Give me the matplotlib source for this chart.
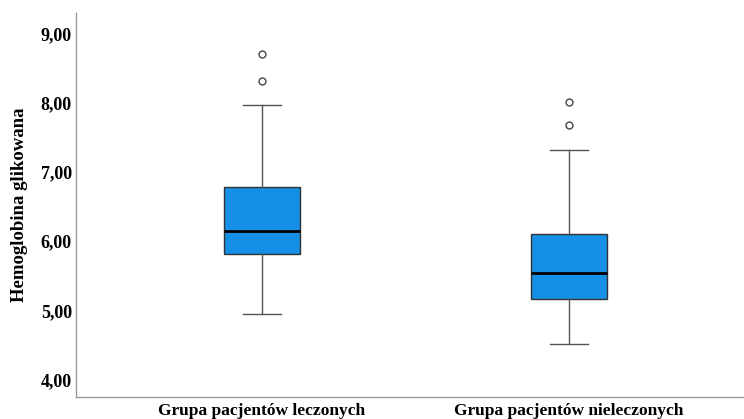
import matplotlib
matplotlib.use("Agg")
import matplotlib.pyplot as plt
from matplotlib.ticker import FuncFormatter

categories = ["Grupa pacjentów leczonych", "Grupa pacjentów nieleczonych"]
q1 = [5.81, 5.17]
median = [6.14, 5.54]
q3 = [6.78, 6.10]
whislo = [4.94, 4.52]
whishi = [7.96, 7.32]
outliers = [[8.32, 8.71], [7.68, 8.01]]
yticks = [4.0, 5.0, 6.0, 7.0, 8.0, 9.0]

stats = []
for i, c in enumerate(categories):
    stats.append(dict(label=c, q1=q1[i], med=median[i], q3=q3[i],
                      whislo=whislo[i], whishi=whishi[i], fliers=outliers[i]))

fig = plt.figure(figsize=(7.44, 4.19), dpi=100)
ax = fig.add_axes([76/744, 1-397/419, (744-76)/744, (397-13)/419])

ax.bxp(stats, positions=[1, 2], widths=0.25, patch_artist=True,
       boxprops=dict(facecolor="#1590E6", edgecolor="#333333", linewidth=1.0),
       medianprops=dict(color="#000000", linewidth=2.0),
       whiskerprops=dict(color="#555555", linewidth=1.0),
       capprops=dict(color="#555555", linewidth=1.0),
       capwidths=0.124,
       flierprops=dict(marker="o", markersize=5, markerfacecolor="white",
                       markeredgecolor="#444444", markeredgewidth=1.0))

ax.set_xlim(0.394, 2.57)
ax.set_ylim(3.747, 9.296)
ax.set_yticks(yticks)
ax.yaxis.set_major_formatter(FuncFormatter(lambda v, p: f"{v:.2f}".replace(".", ",")))
ax.tick_params(length=0)
ax.tick_params(axis="y", pad=3)
for lab in ax.get_yticklabels():
    lab.set_fontfamily("Liberation Serif")
    lab.set_fontweight("bold")
    lab.set_fontsize(13)
ax.set_xticks([1, 2])
ax.set_xticklabels(categories, fontfamily="Liberation Serif", fontweight="bold", fontsize=12.5)
ax.tick_params(axis="x", pad=4)
ax.set_ylabel("Hemoglobina glikowana", fontfamily="Liberation Serif",
              fontweight="bold", fontsize=13.5, labelpad=9)
for s in ["top", "right"]:
    ax.spines[s].set_visible(False)
for s in ["left", "bottom"]:
    ax.spines[s].set_color("#999999")
    ax.spines[s].set_linewidth(1.0)

fig.savefig("out.png", dpi=100)
